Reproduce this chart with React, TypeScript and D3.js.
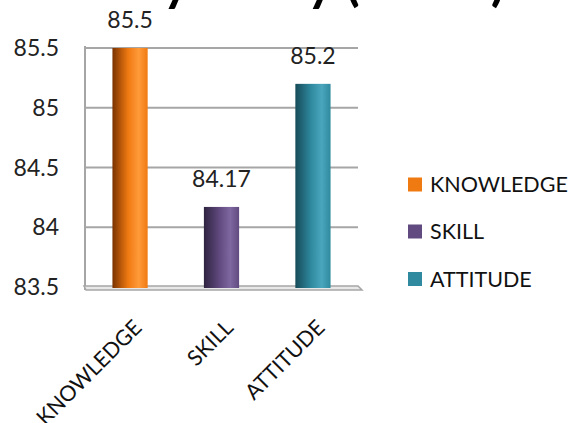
import React from "react";
import * as d3 from "d3";

const categories = ["KNOWLEDGE", "SKILL", "ATTITUDE"];
const values = [85.5, 84.17, 85.2];
const valueLabels = ["85.5", "84.17", "85.2"];
const yTicks = [83.5, 84, 84.5, 85, 85.5];
const yTickLabels = ["83.5", "84", "84.5", "85", "85.5"];
const colors = ["#f07a12", "#614a7f", "#2f8aa0"];
const darkColors = ["#7a3200", "#2e2340", "#164a58"];
const lightColors = ["#ff9a3a", "#7f68a0", "#4aa6bc"];
const title = "Efficacy Study (Mean)";

const W = 580;
const H = 423;
const font = "Lato, 'Open Sans', sans-serif";

export default function App() {
  const x = d3.scaleBand().domain(categories).range([85, 358]).paddingInner(0.615).paddingOuter(0.3);
  const y = d3.scaleLinear().domain([83.5, 85.5]).range([287, 48]);

  return (
    <svg width={W} height={H} style={{ position: "absolute", left: 0, top: 0, background: "#fff" }}>
      <defs>
        {categories.map((c, i) => (
          <linearGradient key={c} id={`g${i}`} x1="0" x2="1" y1="0" y2="0">
            <stop offset="0" stopColor={darkColors[i]} />
            <stop offset="0.45" stopColor={colors[i]} />
            <stop offset="0.75" stopColor={lightColors[i]} />
            <stop offset="1" stopColor={colors[i]} />
          </linearGradient>
        ))}
      </defs>
      <rect width={W} height={H} fill="#fff" />
      <text x={505} y={0} textAnchor="end" fontFamily={font} fontWeight="bold" fontSize={52} fill="#000">
        {title}
      </text>
      {/* grid lines */}
      {yTicks.slice(1).map((t) => (
        <line key={t} x1={85} x2={358} y1={y(t)} y2={y(t)} stroke="#a6a6a6" strokeWidth={2} />
      ))}
      {/* left wall */}
      <line x1={85} x2={85} y1={y(85.5) - 2} y2={290} stroke="#a6a6a6" strokeWidth={2} />
      {/* floor */}
      <path
        d={`M84,${y(83.5) - 1} L358,${y(83.5) - 1} L362,${y(83.5) + 3} L86,${y(83.5) + 3} Z`}
        fill="#e8e8e8"
        stroke="#a6a6a6"
        strokeWidth={1.5}
      />
      {/* bars */}
      {categories.map((c, i) => (
        <rect
          key={c}
          x={x(c)!}
          width={x.bandwidth()}
          y={y(values[i])}
          height={y(83.5) - y(values[i]) + 1}
          fill={`url(#g${i})`}
        />
      ))}
      {/* value labels */}
      {categories.map((c, i) => (
        <text
          key={c}
          x={x(c)! + x.bandwidth() / 2}
          y={y(values[i]) - 20}
          textAnchor="middle"
          fontFamily={font}
          fontSize={23}
          fill="#222"
        >
          {valueLabels[i]}
        </text>
      ))}
      {/* y tick labels */}
      {yTicks.map((t, i) => (
        <text key={t} x={59} y={y(t) + 8} textAnchor="end" fontFamily={font} fontSize={23} fill="#222">
          {yTickLabels[i]}
        </text>
      ))}
      {/* x labels */}
      {categories.map((c) => {
        const cx = x(c)! + x.bandwidth() / 2 + 13;
        const cy = 329;
        return (
          <text
            key={c}
            transform={`translate(${cx},${cy}) rotate(-45)`}
            textAnchor="end"
            fontFamily={font}
            fontSize={21.5}
            fill="#111"
          >
            {c}
          </text>
        );
      })}
      {/* legend */}
      {categories.map((c, i) => {
        const ly = [184.5, 231.5, 279][i];
        return (
          <g key={c}>
            <rect x={408} y={ly - 7} width={14} height={14} fill={colors[i]} />
            <text x={430} y={ly + 7.5} fontFamily={font} fontSize={21.5} fill="#111">
              {c}
            </text>
          </g>
        );
      })}
    </svg>
  );
}
